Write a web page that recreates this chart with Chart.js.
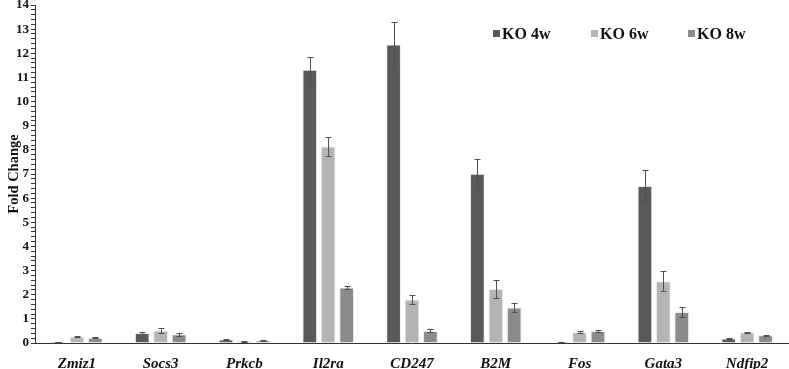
<!DOCTYPE html>
<html>
<head>
<meta charset="utf-8">
<script src="https://cdn.jsdelivr.net/npm/chart.js@4"></script>
<style>
  html, body { margin: 0; padding: 0; background: #ffffff; }
  #wrap { width: 789px; height: 369px; }
</style>
</head>
<body>
<div id="wrap"><canvas id="chart"></canvas></div>
<script>
// Genes on the x axis
const genes = ['Zmiz1', 'Socs3', 'Prkcb', 'Il2ra', 'CD247', 'B2M', 'Fos', 'Gata3', 'Ndfip2'];

// Fold change per time point
const ko4w = [0.04, 0.41, 0.14, 11.32, 12.36, 7.01, 0.04, 6.50, 0.19];
const ko6w = [0.26, 0.52, 0.08, 8.14, 1.80, 2.24, 0.45, 2.56, 0.45];
const ko8w = [0.22, 0.36, 0.11, 2.30, 0.50, 1.47, 0.50, 1.28, 0.32];

// Error bar half lengths
const ko4wErr = [0.01, 0.04, 0.02, 0.54, 0.93, 0.62, 0.01, 0.66, 0.03];
const ko6wErr = [0.03, 0.10, 0.02, 0.41, 0.19, 0.39, 0.04, 0.42, 0.02];
const ko8wErr = [0.02, 0.06, 0.02, 0.05, 0.06, 0.20, 0.03, 0.21, 0.02];

const seriesNames = ['KO 4w', 'KO 6w', 'KO 8w'];
const seriesColors = ['#595959', '#b4b4b4', '#8b8b8b'];

const SERIF = '"Liberation Serif", "Times New Roman", serif';

// draws the +/- error bars on top of every bar
const errorBars = {
    id: 'errorBars',
    afterDatasetsDraw(chart) {
        const ctx = chart.ctx;
        const yScale = chart.scales.y;
        ctx.save();
        ctx.strokeStyle = '#505050';
        ctx.lineWidth = 1;
        chart.data.datasets.forEach((ds, i) => {
            const meta = chart.getDatasetMeta(i);
            meta.data.forEach((bar, j) => {
                const v = ds.data[j];
                const e = ds.errors[j];
                const top = Math.round(yScale.getPixelForValue(v + e)) + 0.5;
                const bot = Math.round(yScale.getPixelForValue(Math.max(0, v - e))) + 0.5;
                const x = Math.round(bar.x) + 0.5;
                ctx.beginPath();
                ctx.moveTo(x, top);
                ctx.lineTo(x, bot);
                ctx.moveTo(x - 3, top);
                ctx.lineTo(x + 3, top);
                ctx.moveTo(x - 3, bot);
                ctx.lineTo(x + 3, bot);
                ctx.stroke();
            });
        });
        ctx.restore();
    }
};

// legend sits inside the plot at the top right
const innerLegend = {
    id: 'innerLegend',
    afterDraw(chart) {
        const ctx = chart.ctx;
        const starts = [493, 591, 688];
        const y = 34;
        ctx.save();
        ctx.font = 'bold 16px ' + SERIF;
        ctx.textBaseline = 'middle';
        ctx.textAlign = 'left';
        chart.data.datasets.forEach((ds, i) => {
            ctx.fillStyle = ds.backgroundColor;
            ctx.fillRect(starts[i], y - 4, 7, 7);
            ctx.fillStyle = '#111111';
            ctx.fillText(ds.label, starts[i] + 9, y + 1);
        });
        ctx.restore();
    }
};

function makeSet(i, data, errors) {
    return {
        label: seriesNames[i],
        data: data,
        errors: errors,
        backgroundColor: seriesColors[i],
        borderColor: '#eeeeee',
        borderWidth: 1,
        barPercentage: 0.8,
        categoryPercentage: 0.66
    };
}

new Chart(document.getElementById('chart'), {
    type: 'bar',
    data: {
        labels: genes,
        datasets: [
            makeSet(0, ko4w, ko4wErr),
            makeSet(1, ko6w, ko6wErr),
            makeSet(2, ko8w, ko8wErr)
        ]
    },
    options: {
        responsive: true,
        maintainAspectRatio: false,
        animation: false,
        layout: { padding: { top: 0, right: 0, left: 6, bottom: 0 } },
        plugins: {
            legend: { display: false },
            tooltip: { enabled: false }
        },
        scales: {
            x: {
                grid: { display: false },
                border: { color: '#333333', width: 1 },
                ticks: {
                    color: '#111111',
                    padding: 4,
                    font: { family: SERIF, size: 15, weight: 'bold', style: 'italic' }
                },
                afterFit: (s) => { s.height = 26; }
            },
            y: {
                min: 0,
                max: 14,
                grid: {
                    drawOnChartArea: false,
                    tickLength: 4,
                    tickColor: '#333333'
                },
                border: { color: '#333333', width: 1 },
                ticks: {
                    stepSize: 0.2,
                    autoSkip: false,
                    padding: 2,
                    color: '#111111',
                    font: { family: SERIF, size: 13, weight: 'bold' },
                    callback: (v) => Math.abs(v - Math.round(v)) < 1e-6 ? String(Math.round(v)) : ''
                },
                title: {
                    display: true,
                    text: 'Fold Change',
                    color: '#111111',
                    padding: 0,
                    font: { family: SERIF, size: 14.5, weight: 'bold' }
                },
                afterFit: (s) => { s.width = 29; s.paddingTop = 5; }
            }
        }
    },
    plugins: [errorBars, innerLegend]
});
</script>
</body>
</html>
